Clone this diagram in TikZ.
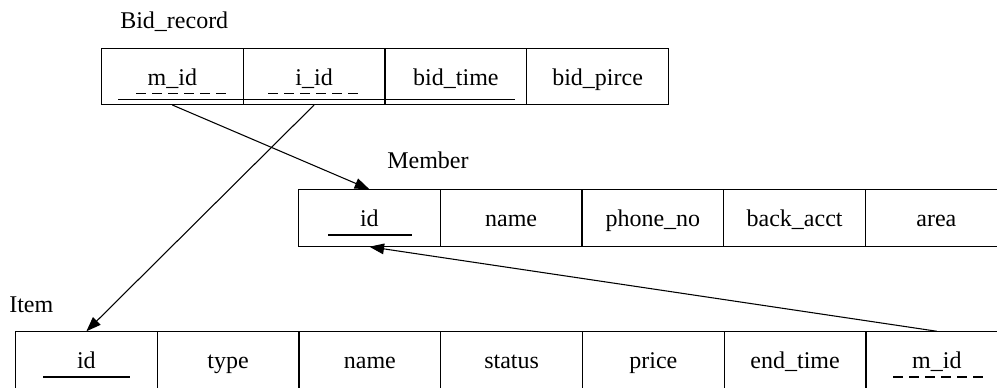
\documentclass[tikz,border=0pt]{standalone}
\usepackage{fontspec}
\setmainfont{Liberation Serif}
\usetikzlibrary{arrows.meta}
\tikzset{
  FieldStyle/.style = { rectangle, draw, line width = 0.8pt,
                        minimum width = 106.3pt, minimum height = 42.3pt,
                        text height = 15.5pt, text depth = 2pt,
                        inner sep = 0pt, font = \fontsize{18}{21}\selectfont },
  TableStyle/.style = { anchor = base west, inner sep = 0pt,
                        font = \fontsize{18}{21}\selectfont },
  LinkStyle/.style  = { line width = 0.8pt,
                        -{Triangle[length=11pt,width=8pt]} } }

\begin{document}
\begin{tikzpicture}[x=0.75pt,y=-0.75pt]
  \useasboundingbox (0,0) rectangle (997,388);
  \tikzstyle{KeyStyle}=[line width = 0.8pt]
  \tikzstyle{FKeyStyle}=[line width = 0.8pt, dash pattern = on 7.5pt off 4.5pt]

  % Bid_record
  \node[TableStyle] (tbid) at (120,29) {Bid\_record};
  \node[FieldStyle] (bm) at (172.4,76.3) {m\_id};
  \node[FieldStyle] (bi) at (314.1,76.3) {i\_id};
  \node[FieldStyle] (bt) at (455.9,76.3) {bid\_time};
  \node[FieldStyle] (bp) at (597.6,76.3) {bid\_pirce};

  % Member
  \node[TableStyle] (tmem) at (387,169) {Member};
  \node[FieldStyle] (mid) at (369.4,218) {id};
  \node[FieldStyle] (mname) at (511.1,218) {name};
  \node[FieldStyle] (mphone) at (652.9,218) {phone\_no};
  \node[FieldStyle] (macct) at (794.6,218) {back\_acct};
  \node[FieldStyle] (marea) at (936.4,218) {area};

  % Item
  \node[TableStyle] (titem) at (9,313) {Item};
  \node[FieldStyle] (iid) at (86.4,360) {id};
  \node[FieldStyle] (itype) at (228.1,360) {type};
  \node[FieldStyle] (iname) at (369.9,360) {name};
  \node[FieldStyle] (istat) at (511.6,360) {status};
  \node[FieldStyle] (iprice) at (653.4,360) {price};
  \node[FieldStyle] (iend) at (795.1,360) {end\_time};
  \node[FieldStyle] (im) at (936.9,360) {m\_id};

  % keys
  \draw[KeyStyle] (118,99.5) -- (515,99.5);
  \draw[FKeyStyle] (136,93.3) -- (227,93.3);
  \draw[FKeyStyle] (268,93.3) -- (359,93.3);
  \draw[KeyStyle] (328,235) -- (412,235);
  \draw[KeyStyle] (43,377) -- (130,377);
  \draw[FKeyStyle] (893,377) -- (985,377);

  % references
  \draw[LinkStyle] (bm.south) -- (mid.north);
  \draw[LinkStyle] (bi.south) -- (iid.north);
  \draw[LinkStyle] (im.north) -- (mid.south);
\end{tikzpicture}
\end{document}
